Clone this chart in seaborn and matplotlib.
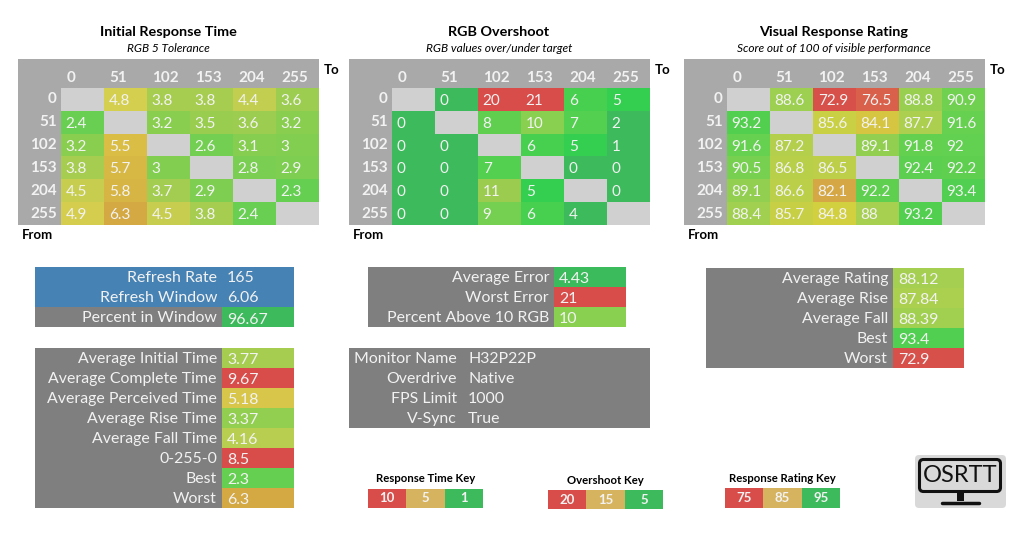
import numpy as np
import matplotlib
matplotlib.use('Agg')
import matplotlib.pyplot as plt
import seaborn as sns
from matplotlib.colors import LinearSegmentedColormap, ListedColormap
from matplotlib.patches import Rectangle, FancyBboxPatch

rgb_levels = [0, 51, 102, 153, 204, 255]
nan = np.nan

initial_time = [
    [nan, 4.8, 3.8, 3.8, 4.4, 3.6],
    [2.4, nan, 3.2, 3.5, 3.6, 3.2],
    [3.2, 5.5, nan, 2.6, 3.1, 3],
    [3.8, 5.7, 3, nan, 2.8, 2.9],
    [4.5, 5.8, 3.7, 2.9, nan, 2.3],
    [4.9, 6.3, 4.5, 3.8, 2.4, nan],
]
overshoot = [
    [nan, 0, 20, 21, 6, 5],
    [0, nan, 8, 10, 7, 2],
    [0, 0, nan, 6, 5, 1],
    [0, 0, 7, nan, 0, 0],
    [0, 0, 11, 5, nan, 0],
    [0, 0, 9, 6, 4, nan],
]
rating = [
    [nan, 88.6, 72.9, 76.5, 88.8, 90.9],
    [93.2, nan, 85.6, 84.1, 87.7, 91.6],
    [91.6, 87.2, nan, 89.1, 91.8, 92],
    [90.5, 86.8, 86.5, nan, 92.4, 92.2],
    [89.1, 86.6, 82.1, 92.2, nan, 93.4],
    [88.4, 85.7, 84.8, 88, 93.2, nan],
]

refresh_labels = ['Refresh Rate', 'Refresh Window']
refresh_values = ['165', '6.06']
window_labels = ['Percent in Window']
window_values = [96.67]
time_labels = ['Average Initial Time', 'Average Complete Time', 'Average Perceived Time',
               'Average Rise Time', 'Average Fall Time', '0-255-0', 'Best', 'Worst']
time_values = [3.77, 9.67, 5.18, 3.37, 4.16, 8.5, 2.3, 6.3]
error_labels = ['Average Error', 'Worst Error', 'Percent Above 10 RGB']
error_values = [4.43, 21, 10]
info_labels = ['Monitor Name', 'Overdrive', 'FPS Limit', 'V-Sync']
info_values = ['H32P22P', 'Native', '1000', 'True']
rating_labels = ['Average Rating', 'Average Rise', 'Average Fall', 'Best', 'Worst']
rating_values = [88.12, 87.84, 88.39, 93.4, 72.9]

time_key = ['10', '5', '1']
overshoot_key = ['20', '15', '5']
rating_key = ['75', '85', '95']

GREEN = '#3cba5c'
RED = '#d84c4a'
GRAY = '#7f7f7f'
FRAME = '#a9a9a9'
BLUE = '#4682b4'
CELL_TEXT = '#f2f2f2'
DIAG = '#d0d0d0'


def make_cmap(anchors):
    # anchors are (value, colour), the value range comes from the ends
    lo, hi = anchors[0][0], anchors[-1][0]
    stops = [((v - lo) / (hi - lo), c) for v, c in anchors]
    return LinearSegmentedColormap.from_list('scale', stops), lo, hi


time_scale = make_cmap([(1, GREEN), (2.3, '#66cf52'), (3.2, '#8ace50'), (3.8, '#a8cd50'),
                        (4.8, '#d4cf4f'), (5.5, '#d9bd45'), (6.3, '#d4a843'), (8.5, RED), (10, RED)])
over_scale = make_cmap([(0, GREEN), (4.43, GREEN), (5, '#33d04f'), (6, '#47d050'), (8, '#60cf50'),
                        (10, '#8ad050'), (11, '#9ccc4f'), (15, '#d4b45c'), (20, RED), (21, RED)])
rating_scale = make_cmap([(72, RED), (76.5, '#d9604a'), (82.1, '#d6a845'), (84.8, '#d4d040'),
                          (88, '#a8cf50'), (90.9, '#70d050'), (93.4, '#50cf50'), (96, GREEN), (100, GREEN)])

sns.set_style('white')
plt.rcParams['font.family'] = ['Lato', 'DejaVu Sans']

W, H = 1024, 552
fig = plt.figure(figsize=(W / 100, H / 100), dpi=100)

# page layer in pixel coordinates
page = fig.add_axes([0, 0, 1, 1], zorder=0)
page.set_xlim(0, W)
page.set_ylim(H, 0)
page.axis('off')


def px_axes(x0, y0, x1, y1):
    return fig.add_axes([x0 / W, 1 - y1 / H, (x1 - x0) / W, (y1 - y0) / H], zorder=1)


def box(x0, y0, x1, y1, color):
    page.add_patch(Rectangle((x0, y0), x1 - x0, y1 - y0, color=color, lw=0))


def label(x, y, s, **kw):
    kw.setdefault('va', 'center')
    kw.setdefault('color', CELL_TEXT)
    page.text(x, y, s, **kw)


def fill_cells(ax, values, pad, size):
    for i, row in enumerate(values):
        for j, v in enumerate(row):
            if not np.isnan(v):
                ax.text(j + pad, i + 0.5, f'{v:g}', ha='left', va='center_baseline',
                        color=CELL_TEXT, fontsize=size)


def matrix(x0, title, subtitle, values, scale):
    cmap, lo, hi = scale
    cx = x0 + 150
    label(cx, 32, title, ha='center', color='black', fontsize=10.4, fontweight='bold')
    label(cx, 49, subtitle, ha='center', color='black', fontsize=8.6, style='italic')
    box(x0, 59, x0 + 301, 225, FRAME)
    ax = px_axes(x0 + 43, 88, x0 + 301, 225)
    ax.set_facecolor(DIAG)
    sns.heatmap(np.array(values, dtype=float), ax=ax, cmap=cmap, vmin=lo, vmax=hi, cbar=False)
    fill_cells(ax, values, 0.11, 11)
    ax.xaxis.tick_top()
    ax.set_xticks(np.arange(6) + 0.12)
    ax.set_xticklabels(rgb_levels, ha='left', rotation=0, fontsize=11, fontweight='bold', color=CELL_TEXT)
    ax.set_yticks(np.arange(6) + 0.5)
    ax.set_yticklabels(rgb_levels, rotation=0, fontsize=11, fontweight='bold', color=CELL_TEXT)
    ax.tick_params(axis='x', length=0, pad=2)
    ax.tick_params(axis='y', length=0, pad=3)
    label(x0 + 306, 70, 'To', color='black', fontsize=9.5, fontweight='bold')
    label(x0 + 4, 235, 'From', color='black', fontsize=9.5, fontweight='bold')


def stats(x0, split, x1, y0, labels, values, scale):
    n = len(labels)
    box(x0, y0, x1, y0 + n * 20, GRAY)
    for i, s in enumerate(labels):
        label(split - 5, y0 + 11 + i * 20, s, ha='right', fontsize=11.4)
    cmap, lo, hi = scale
    ax = px_axes(split, y0, x1, y0 + n * 20)
    data = np.array(values, dtype=float).reshape(-1, 1)
    sns.heatmap(data, ax=ax, cmap=cmap, vmin=lo, vmax=hi, cbar=False, xticklabels=False, yticklabels=False)
    for i, v in enumerate(values):
        ax.text(0.07, i + 0.55, f'{v:g}', ha='left', va='center_baseline', color=CELL_TEXT, fontsize=11.4)


def plain_rows(x0, split, x1, y0, labels, values, color, gap):
    box(x0, y0, x1, y0 + len(labels) * 20, color)
    for i, s in enumerate(labels):
        label(split - gap, y0 + 11 + i * 20, s, ha='right', fontsize=11.4)
        label(split + gap, y0 + 11 + i * 20, values[i], ha='left', fontsize=11.4)


def key(x0, x1, y0, y1, title, values):
    label((x0 + x1) / 2, y0 - 10, title, ha='center', color='black', fontsize=8.2, fontweight='bold')
    ax = px_axes(x0, y0, x1, y1)
    sns.heatmap([[0, 1, 2]], ax=ax, cmap=ListedColormap([RED, '#d6b45f', GREEN]), cbar=False,
                annot=[values], fmt='', annot_kws={'color': CELL_TEXT, 'fontsize': 9.5, 'fontweight': 'bold'},
                xticklabels=False, yticklabels=False)


matrix(18, 'Initial Response Time', 'RGB 5 Tolerance', initial_time, time_scale)
matrix(349, 'RGB Overshoot', 'RGB values over/under target', overshoot, over_scale)
matrix(684, 'Visual Response Rating', 'Score out of 100 of visible performance', rating, rating_scale)

plain_rows(35, 222, 294, 267, refresh_labels, refresh_values, BLUE, 5)
stats(35, 222, 294, 307, window_labels, window_values, rating_scale)
stats(35, 222, 294, 348, time_labels, time_values, time_scale)
stats(368, 554, 626, 267, error_labels, error_values, over_scale)
stats(706, 893, 964, 268, rating_labels, rating_values, rating_scale)
plain_rows(349, 462.5, 650, 348, info_labels, info_values, GRAY, 5.5)

key(368, 483, 489, 508, 'Response Time Key', time_key)
key(548, 663, 490, 509, 'Overshoot Key', overshoot_key)
key(725, 840, 488, 508, 'Response Rating Key', rating_key)

# logo
page.add_patch(FancyBboxPatch((915, 455), 91, 53, boxstyle='round,pad=0,rounding_size=4',
                              fc='#d9d9d9', ec='none'))
page.add_patch(FancyBboxPatch((919.5, 459.5), 81, 32, boxstyle='round,pad=0,rounding_size=4',
                              fc='none', ec='#111111', lw=2.2))
page.add_patch(Rectangle((957, 492), 7, 9, color='#111111', lw=0))
page.plot([942, 979], [503, 503], color='#111111', lw=2.5, solid_capstyle='round')
label(960.5, 476, 'OSRTT', ha='center', color='#111111', fontsize=17)

fig.savefig('out.png', dpi=100)
